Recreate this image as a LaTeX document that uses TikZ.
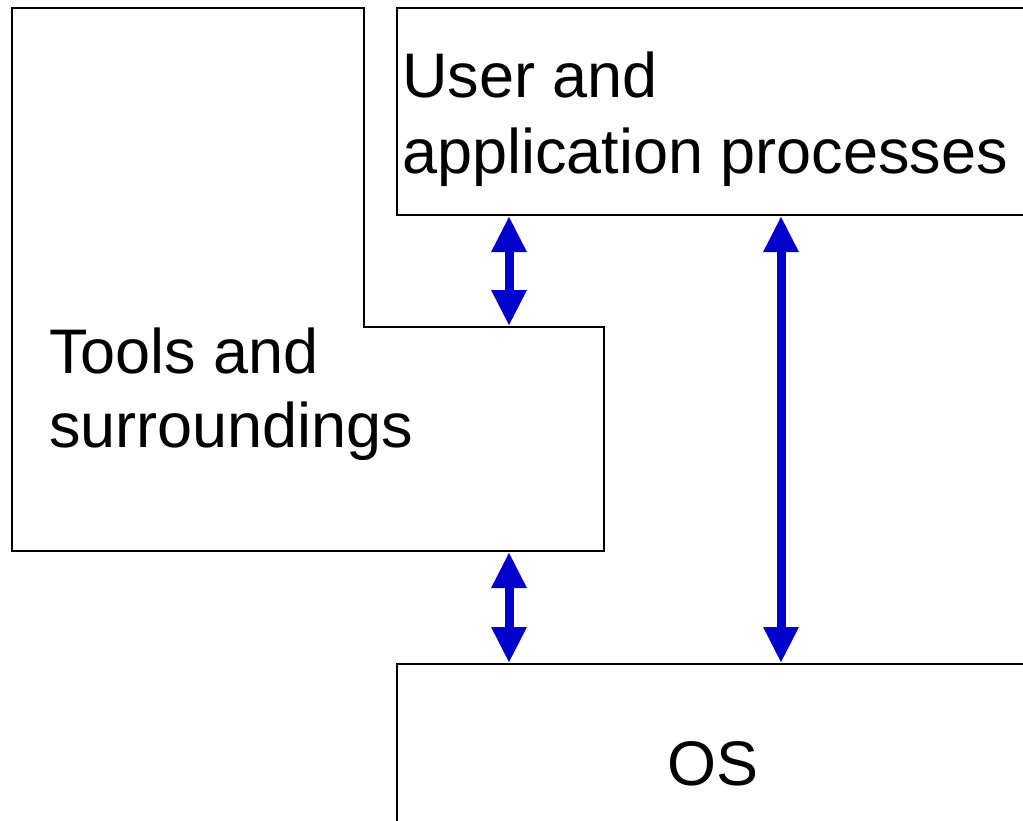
\documentclass[tikz,border=0pt]{standalone}
\usepackage{fontspec}
\setmainfont{Liberation Sans}
\usetikzlibrary{arrows.meta}
\tikzset{
  box/.style={draw=black, line width=2pt, fill=white},
  label/.style={inner sep=0pt, anchor=base west, font=\fontsize{63}{76}\selectfont},
  link/.style={draw={rgb,255:red,0;green,0;blue,204}, line width=9pt,
    {Triangle[width=33pt,length=36pt]}-{Triangle[width=33pt,length=36pt]}}
}
\begin{document}
\begin{tikzpicture}[x=1pt,y=-1pt]
\useasboundingbox (0,0) rectangle (1023,820);
\clip (0,0) rectangle (1023,820);
\fill[white] (0,0) rectangle (1023,820);

% user and application processes (runs past the right edge)
\draw[box] (397,8) rectangle (1040,215);
% operating system (runs past the right and bottom edges)
\draw[box] (397,664) rectangle (1040,840);
% tools and surroundings: L-shaped outline
\draw[box] (12,8) -- (364,8) -- (364,327) -- (604,327) -- (604,551) -- (12,551) -- cycle;

\node[label] (user1) at (402,97) {User and};
\node[label] (user2) at (402,173) {application processes};
\node[label] (tools1) at (49,373) {Tools and};
\node[label] (tools2) at (49,447) {surroundings};
\node[inner sep=0pt, anchor=base, font=\fontsize{63}{76}\selectfont] (os) at (713,785) {OS};

% attachment points on the box edges
\coordinate (userA) at (509,216);
\coordinate (userB) at (781,216);
\coordinate (toolsTop) at (509,326);
\coordinate (toolsBot) at (509,552);
\coordinate (osA) at (509,663);
\coordinate (osB) at (781,663);

\draw[link] (userA) -- (toolsTop);
\draw[link] (toolsBot) -- (osA);
\draw[link] (userB) -- (osB);
\end{tikzpicture}
\end{document}
